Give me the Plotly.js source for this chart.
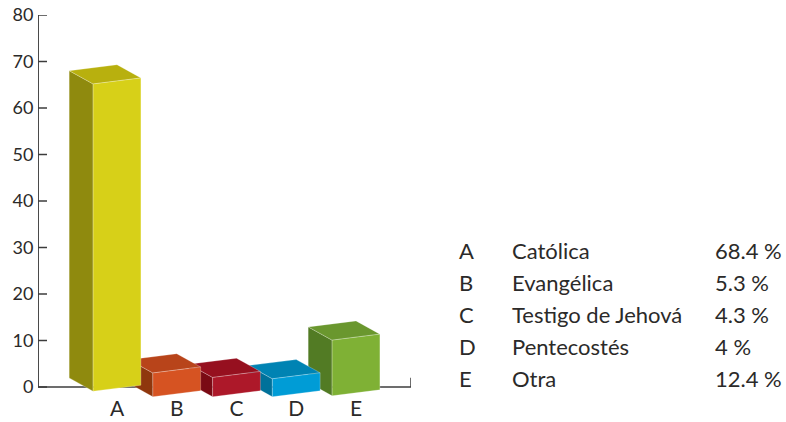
<!DOCTYPE html>
<html>
<head>
<meta charset="utf-8">
<script src="https://cdn.plot.ly/plotly-3.0.1.min.js"></script>
<style>html,body{margin:0;padding:0;background:#fff}#chart{width:786px;height:422px}</style>
</head>
<body>
<div id="chart"></div>
<script>
var categories = ['A', 'B', 'C', 'D', 'E'];
var names = ['Católica', 'Evangélica', 'Testigo de Jehová', 'Pentecostés', 'Otra'];
var values = [68.4, 5.3, 4.3, 4, 12.4];
var valueLabels = ['68.4 %', '5.3 %', '4.3 %', '4 %', '12.4 %'];
var yTicks = [0, 10, 20, 30, 40, 50, 60, 70, 80];

var frontColors = ['#D7D018', '#D65322', '#AD1829', '#009CD6', '#7FB135'];
var topColors = ['#B8B00E', '#B8441A', '#96101F', '#0083B3', '#6A972E'];
var sideColors = ['#8F8A0E', '#8F370D', '#7A0A14', '#00719A', '#527B24'];

// oblique projection of the bars, in axis units
var halfWidth = 0.4, depthX = -0.4, depthY = 2.85, slant = 1.29, foreshorten = 0.966;
var baseDrop = [-0.9, -2.1, -2.1, -2.1, -1.9];

var W = 786, H = 422, L = 38, R = 411, T = 15, B = 398;
var xUnit = 59.75, yUnit = 4.65, xCenter0 = 117;
var xRange = [(L - xCenter0) / xUnit, (R - xCenter0) / xUnit];
var yRange = [-(B - T - 80 * yUnit) / yUnit, 80];

function face(pts, color) {
  var xs = pts.map(function (p) { return p[0]; });
  var ys = pts.map(function (p) { return p[1]; });
  xs.push(pts[0][0]); ys.push(pts[0][1]);
  return {
    type: 'scatter', mode: 'lines', x: xs, y: ys, fill: 'toself', fillcolor: color,
    line: { color: 'rgba(255,255,255,0.35)', width: 0.7 },
    hoverinfo: 'skip', showlegend: false
  };
}

var traces = [];
for (var i = categories.length - 1; i >= 0; i--) {
  var x0 = i - halfWidth, x1 = i + halfWidth;
  var b = baseDrop[i], h = values[i] * foreshorten;
  var fl = [x0, b], fr = [x1, b + slant], tl = [x0, b + h], tr = [x1, b + slant + h];
  var bl = [x0 + depthX, b + depthY], btl = [x0 + depthX, b + depthY + h];
  var btr = [x1 + depthX, b + slant + depthY + h];
  traces.push(face([fl, tl, btl, bl], sideColors[i]));
  traces.push(face([tl, tr, btr, btl], topColors[i]));
  traces.push(face([fl, fr, tr, tl], frontColors[i]));
}

var textColor = '#2b2a29';
var font = 'Lato, "Open Sans", sans-serif';
var colX = [457, 510, 713];
var rowY = [250, 282, 314, 346, 378];
var annotations = [];
function addCell(px, py, text) {
  annotations.push({
    xref: 'paper', yref: 'paper', x: (px - L) / (R - L), y: (B - py) / (B - T),
    xanchor: 'left', yanchor: 'middle', text: text, showarrow: false,
    font: { family: font, size: 22, color: textColor }
  });
}
categories.forEach(function (c, i) {
  addCell(colX[0], rowY[i], c);
  addCell(colX[1], rowY[i], names[i]);
  addCell(colX[2], rowY[i], valueLabels[i]);
});

var axisLine = { color: '#3c3c3c', width: 1.5 };
var spineLine = { color: '#4a4a4a', width: 2 };
var layout = {
  width: W, height: H, autosize: false,
  margin: { l: L, r: W - R, t: T, b: H - B, pad: 0 },
  paper_bgcolor: '#fff', plot_bgcolor: '#fff',
  showlegend: false,
  xaxis: {
    range: xRange, tickmode: 'array', tickvals: [0, 1, 2, 3, 4], ticktext: categories,
    showgrid: false, zeroline: false, showline: false, ticks: '', ticklabelstandoff: -4,
    tickfont: { family: font, size: 21, color: textColor }, fixedrange: true
  },
  yaxis: {
    range: yRange, tickmode: 'array', tickvals: yTicks,
    showgrid: false, zeroline: false, showline: false,
    ticks: 'outside', ticklen: 0,
    tickfont: { family: font, size: 18, color: textColor }, fixedrange: true
  },
  shapes: [
    { type: 'line', layer: 'below', xref: 'x', yref: 'y', x0: xRange[0], x1: xRange[0], y0: 0, y1: 80, line: spineLine },
    { type: 'line', layer: 'below', xref: 'x', yref: 'y', x0: xRange[0], x1: xRange[1], y0: 0, y1: 0, line: axisLine },
    { type: 'line', layer: 'below', xref: 'x', yref: 'y', x0: xRange[1], x1: xRange[1], y0: 0, y1: 2, line: axisLine }
  ].concat(yTicks.map(function (t) {
    return { type: 'line', layer: 'below', xref: 'x', yref: 'y', x0: xRange[0], x1: xRange[0] + 9 / xUnit, y0: t, y1: t, line: axisLine };
  })),
  annotations: annotations
};

Plotly.newPlot('chart', traces, layout, { displayModeBar: false, staticPlot: true });
</script>
</body>
</html>
